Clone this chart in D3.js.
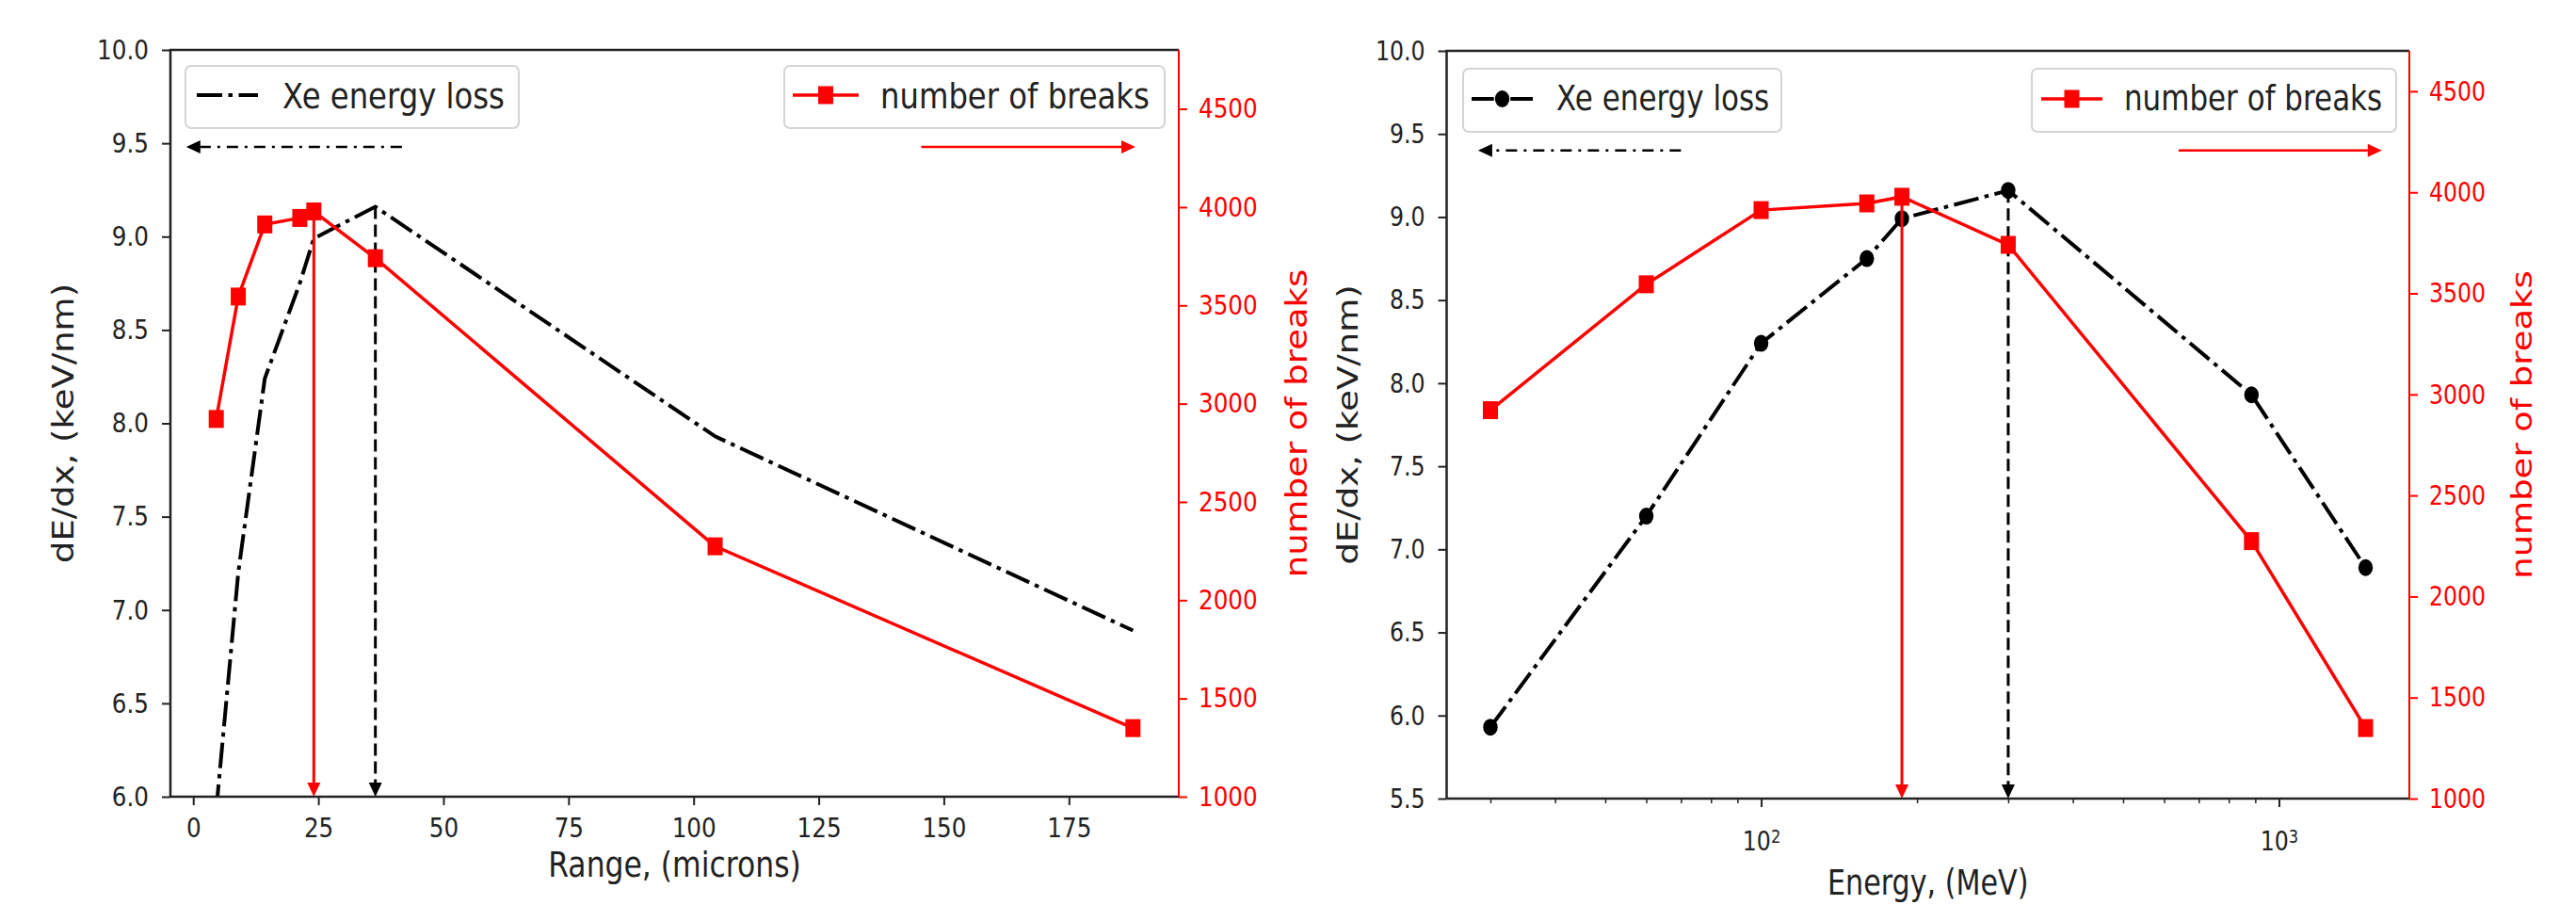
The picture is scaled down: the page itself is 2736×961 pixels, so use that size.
<!DOCTYPE html>
<html>
<head>
<meta charset="utf-8">
<script src="https://cdn.jsdelivr.net/npm/d3@7/dist/d3.min.js"></script>
<style>
  html, body { margin: 0; padding: 0; background: #fff; }
  svg { display: block; font-family: "DejaVu Sans", sans-serif; }
</style>
</head>
<body>
<svg id="chart" width="2736" height="961"></svg>
<script>
// ---- data ----
const energyMeV    = [30, 60, 100, 160, 187, 300, 885, 1470];
const rangeMicrons = [4.6, 9.0, 14.3, 21.3, 24.1, 36.4, 104.3, 187.8];
const dEdx         = [5.93, 7.20, 8.24, 8.75, 8.99, 9.16, 7.93, 6.89];
const breaks       = [2922, 3545, 3912, 3945, 3978, 3740, 2274, 1349];

// ticks and axis limits
const rangeTicks  = [0, 25, 50, 75, 100, 125, 150, 175];
const dEdxTicksL  = [6.0, 6.5, 7.0, 7.5, 8.0, 8.5, 9.0, 9.5, 10.0];
const dEdxTicksR  = [5.5, 6.0, 6.5, 7.0, 7.5, 8.0, 8.5, 9.0, 9.5, 10.0];
const breaksTicks = [1000, 1500, 2000, 2500, 3000, 3500, 4000, 4500];
const energyMajor = [100, 1000];
const energyMinor = [30, 40, 50, 60, 70, 80, 90, 200, 300, 400, 500, 600, 700, 800, 900];
const dEdxLimL    = [6, 10];
const dEdxLimR    = [5.5, 10];
const breaksLimL  = [1000, 4800];
const breaksLimR  = [1000, 4700];

// direction arrows (x from -> to, at a dE/dx level)
const backArrowL = [41.7, -1.4];
const fwdArrowL  = [145.5, 188.3];
const arrowLevelL = 9.48;
const backArrowR = [70, 28.4];
const fwdArrowR  = [640, 1580];
const arrowLevelR = 9.40;

const INK = "#222";
const RED = "red";
const svg = d3.select("#chart");

// matplotlib-like 5% margin on the data range
function padded(vals, log) {
  const f = log ? Math.log10 : (v) => v;
  const [a, b] = d3.extent(vals, f);
  const m = (b - a) * 0.05;
  return log ? [10 ** (a - m), 10 ** (b + m)] : [a - m, b + m];
}

function txt(g, x, y, s, size, sx, opts = {}) {
  return g.append("text")
    .attr("transform", `translate(${x},${y}) scale(${sx},1)` + (opts.rot ? " rotate(-90)" : ""))
    .attr("font-size", size)
    .attr("fill", opts.fill || INK)
    .attr("text-anchor", opts.anchor || "start")
    .text(s);
}

function styleAxis(ga, sx, color) {
  ga.attr("font-family", null).attr("font-size", 29);
  ga.select(".domain").remove();
  ga.selectAll(".tick line").attr("stroke", color).attr("stroke-width", 2);
  ga.selectAll(".tick text").attr("fill", color).each(function () {
    const t = d3.select(this);
    const x = +t.attr("x") || 0, y = +t.attr("y") || 0;
    t.attr("x", null).attr("y", null)
      .attr("transform", `translate(${x},${y}) scale(${sx},1)`);
  });
}

function arrow(g, x0, y0, x1, y1, color, width, dash) {
  const len = Math.hypot(x1 - x0, y1 - y0);
  const ux = (x1 - x0) / len, uy = (y1 - y0) / len;
  const hl = 15, hw = 7;
  const bx = x1 - ux * hl, by = y1 - uy * hl;
  g.append("line")
    .attr("x1", x0).attr("y1", y0).attr("x2", bx).attr("y2", by)
    .attr("stroke", color).attr("stroke-width", width)
    .attr("stroke-dasharray", dash || null);
  g.append("path")
    .attr("d", `M${x1},${y1}L${bx - uy * hw},${by + ux * hw}L${bx + uy * hw},${by - ux * hw}Z`)
    .attr("fill", color);
}

function marker(g, kind, cx, cy, color) {
  if (kind === "square") {
    g.append("rect").attr("x", cx - 8).attr("y", cy - 9.5)
      .attr("width", 16).attr("height", 19).attr("fill", color);
  } else {
    g.append("ellipse").attr("cx", cx).attr("cy", cy)
      .attr("rx", 7.7).attr("ry", 9).attr("fill", color);
  }
}

function legend(g, lg, sx) {
  g.append("rect")
    .attr("x", lg.box[0]).attr("y", lg.box[1])
    .attr("width", lg.box[2] - lg.box[0]).attr("height", lg.box[3] - lg.box[1])
    .attr("rx", 6).attr("fill", "#fff").attr("fill-opacity", 0.8)
    .attr("stroke", "#d4d4d4").attr("stroke-width", 2);
  g.append("line")
    .attr("x1", lg.line[0]).attr("x2", lg.line[1]).attr("y1", lg.ly).attr("y2", lg.ly)
    .attr("stroke", lg.color).attr("stroke-width", lg.width)
    .attr("stroke-dasharray", lg.dash || null)
    .attr("stroke-dashoffset", lg.offset || null);
  if (lg.marker) marker(g, lg.marker, (lg.line[0] + lg.line[1]) / 2, lg.ly, lg.color);
  txt(g, lg.tx, lg.ty, lg.label, 38, sx);
}

const DASHDOT = "27,6.5,4.5,6.5";

function drawPanel(p) {
  const g = svg.append("g");
  const clipId = "clip-" + p.id;
  svg.append("clipPath").attr("id", clipId).append("rect")
    .attr("x", p.left).attr("y", p.top)
    .attr("width", p.right - p.left).attr("height", p.bottom - p.top);

  const x = p.x, y1 = p.y1, y2 = p.y2;
  const X = p.xs;

  // ---- dE/dx (left axis) ----
  const lineL = d3.line().x((d, i) => x(X[i])).y((d) => y1(d));
  const data1 = g.append("g").attr("clip-path", `url(#${clipId})`);
  data1.append("path").datum(dEdx)
    .attr("d", lineL).attr("fill", "none")
    .attr("stroke", "black").attr("stroke-width", 4)
    .attr("stroke-dasharray", DASHDOT);
  if (p.blackMarker) {
    dEdx.forEach((d, i) => marker(data1, "circle", x(X[i]), y1(d), "black"));
  }

  // peak of dE/dx -> dashed arrow down to the axis
  const iE = d3.maxIndex(dEdx);
  arrow(g, x(X[iE]), y1(dEdx[iE]), x(X[iE]), p.bottom, "black", 3, "13,6");
  arrow(g, x(p.back[0]), y1(p.level), x(p.back[1]), y1(p.level), "black", 2.5, "12,7,3,7");

  legend(g, p.legBlack, p.sx);

  // ---- number of breaks (right axis) ----
  const lineR = d3.line().x((d, i) => x(X[i])).y((d) => y2(d));
  const data2 = g.append("g").attr("clip-path", `url(#${clipId})`);
  data2.append("path").datum(breaks)
    .attr("d", lineR).attr("fill", "none")
    .attr("stroke", RED).attr("stroke-width", 3.5);
  breaks.forEach((d, i) => marker(data2, "square", x(X[i]), y2(d), RED));

  const iB = d3.maxIndex(breaks);
  arrow(g, x(X[iB]), y2(breaks[iB]), x(X[iB]), p.bottom, RED, 3);
  arrow(g, x(p.fwd[0]), y1(p.level), x(p.fwd[1]), y1(p.level), RED, 2.5);

  legend(g, p.legRed, p.sx);

  // ---- axes ----
  if (p.log) {
    const gMinor = g.append("g").attr("transform", `translate(0,${p.bottom})`)
      .call(d3.axisBottom(x).tickValues(energyMinor).tickSize(5).tickSizeOuter(0).tickFormat(""));
    styleAxis(gMinor, p.sx, INK);
    gMinor.selectAll(".tick line").attr("stroke-width", 1.5);
    const gMajor = g.append("g").attr("transform", `translate(0,${p.bottom})`)
      .call(d3.axisBottom(x).tickValues(energyMajor).tickSize(9).tickSizeOuter(0).tickFormat(""));
    styleAxis(gMajor, p.sx, INK);
    gMajor.selectAll(".tick text").each(function (d) {
      const t = d3.select(this).attr("dy", null)
        .attr("transform", `translate(0,55) scale(${p.sx},1)`).attr("text-anchor", "middle");
      t.append("tspan").text("10");
      t.append("tspan").attr("font-size", 20).attr("dy", -8).text(Math.round(Math.log10(d)));
    });
  } else {
    const gx = g.append("g").attr("transform", `translate(0,${p.bottom})`)
      .call(d3.axisBottom(x).tickValues(p.xTicks).tickSize(9).tickPadding(13)
        .tickSizeOuter(0).tickFormat(d3.format("d")));
    styleAxis(gx, p.sx, INK);
  }
  const gy1 = g.append("g").attr("transform", `translate(${p.left},0)`)
    .call(d3.axisLeft(y1).tickValues(p.y1Ticks).tickSize(9).tickPadding(14)
      .tickSizeOuter(0).tickFormat(d3.format(".1f")));
  styleAxis(gy1, p.sx, INK);
  const gy2 = g.append("g").attr("transform", `translate(${p.right},0)`)
    .call(d3.axisRight(y2).tickValues(breaksTicks).tickSize(9).tickPadding(12)
      .tickSizeOuter(0).tickFormat(d3.format("d")));
  styleAxis(gy2, p.sx, RED);

  // spines
  const sp = g.append("g").attr("fill", "none");
  sp.append("path").attr("d", `M${p.left},${p.bottom}V${p.top}H${p.right}`)
    .attr("stroke", INK).attr("stroke-width", 2.5);
  sp.append("path").attr("d", `M${p.left},${p.bottom}H${p.right}`)
    .attr("stroke", INK).attr("stroke-width", 2.5);
  sp.append("path").attr("d", `M${p.right},${p.top}V${p.bottom}`)
    .attr("stroke", RED).attr("stroke-width", 2);

  // axis titles
  const midY = (p.top + p.bottom) / 2;
  txt(g, (p.left + p.right) / 2, p.xLabelY, p.xLabel, 37, p.sx, { anchor: "middle" });
  txt(g, p.yLabelX, midY, "dE/dx,  (keV/nm)", 37, p.sx, { anchor: "middle", rot: true });
  txt(g, p.y2LabelX, midY, "number of breaks", 37, p.sx, { anchor: "middle", rot: true, fill: RED });
}

// ---- left panel: range ----
const L = { id: "L", left: 181, right: 1252, top: 53, bottom: 846, sx: 0.85 };
L.x  = d3.scaleLinear().domain(padded(rangeMicrons)).range([L.left, L.right]);
L.y1 = d3.scaleLinear().domain(dEdxLimL).range([L.bottom, L.top]);
L.y2 = d3.scaleLinear().domain(breaksLimL).range([L.bottom, L.top]);
Object.assign(L, {
  xs: rangeMicrons, xTicks: rangeTicks, y1Ticks: dEdxTicksL,
  back: backArrowL, fwd: fwdArrowL, level: arrowLevelL,
  xLabel: "Range, (microns)", xLabelY: 931, yLabelX: 78, y2LabelX: 1388,
  legBlack: { box: [197, 70, 551, 136], line: [209, 274], ly: 101, color: "black", width: 4,
              dash: DASHDOT, tx: 300, ty: 115, label: "Xe energy loss" },
  legRed:   { box: [833, 70, 1237, 136], line: [842, 912], ly: 101, color: RED, width: 3.5,
              marker: "square", tx: 935, ty: 115, label: "number of breaks" },
});
drawPanel(L);

// ---- right panel: energy (log) ----
const R = { id: "R", left: 1536.5, right: 2559, top: 54, bottom: 848, sx: 0.815, log: true };
R.x  = d3.scaleLog().domain(padded(energyMeV, true)).range([R.left, R.right]);
R.y1 = d3.scaleLinear().domain(dEdxLimR).range([R.bottom, R.top]);
R.y2 = d3.scaleLinear().domain(breaksLimR).range([R.bottom, R.top]);
Object.assign(R, {
  xs: energyMeV, y1Ticks: dEdxTicksR, blackMarker: true,
  back: backArrowR, fwd: fwdArrowR, level: arrowLevelR,
  xLabel: "Energy, (MeV)", xLabelY: 950, yLabelX: 1442, y2LabelX: 2689,
  legBlack: { box: [1554, 73, 1892, 140], line: [1563, 1628], ly: 105, color: "black", width: 4,
              dash: DASHDOT, offset: 3.25, marker: "circle", tx: 1653, ty: 117, label: "Xe energy loss" },
  legRed:   { box: [2158, 73, 2545, 140], line: [2168, 2233], ly: 105, color: RED, width: 3.5,
              marker: "square", tx: 2256, ty: 117, label: "number of breaks" },
});
drawPanel(R);
</script>
</body>
</html>
